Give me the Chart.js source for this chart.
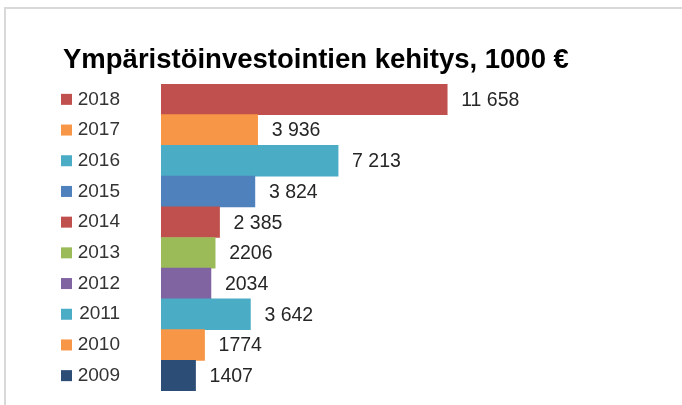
<!DOCTYPE html>
<html>
<head>
<meta charset="utf-8">
<script src="https://cdn.jsdelivr.net/npm/chart.js@4"></script>
<style>
    html, body { margin: 0; padding: 0; background: #fff; }
    canvas { display: block; }
</style>
</head>
<body>
<canvas id="envChart" width="682" height="405"></canvas>
<script>
// Data
const years = ['2018', '2017', '2016', '2015', '2014', '2013', '2012', '2011', '2010', '2009'];
const investments = [11658, 3936, 7213, 3824, 2385, 2206, 2034, 3642, 1774, 1407];
const valueLabels = ['11 658', '3 936', '7 213', '3 824', '2 385', '2206', '2034', '3 642', '1774', '1407'];
const barColors = ['#C0504D', '#F79646', '#4BACC6', '#4F81BD', '#C0504D', '#9BBB59', '#8064A2', '#4BACC6', '#F79646', '#2C4D75'];

const FONT = '"Liberation Sans", Arial, sans-serif';

// frame lines + colored legend squares + value labels
const decorations = {
    id: 'decorations',
    beforeDraw: (chart) => {
        const ctx = chart.ctx;
        ctx.save();
        ctx.strokeStyle = '#d9d9d9';
        ctx.lineWidth = 2;
        ctx.beginPath();
        ctx.moveTo(5, chart.height);
        ctx.lineTo(5, 8);
        ctx.lineTo(chart.width, 8);
        ctx.stroke();
        ctx.restore();
    },
    afterDatasetsDraw: (chart) => {
        const ctx = chart.ctx;
        const yScale = chart.scales.y;
        const meta = chart.getDatasetMeta(0);
        ctx.save();
        years.forEach((y, i) => {
            const py = yScale.getPixelForValue(i);
            ctx.fillStyle = barColors[i];
            ctx.fillRect(chart.chartArea.left - 100, py - 5.5, 11, 11);
        });
        ctx.font = '19.5px ' + FONT;
        ctx.fillStyle = '#262626';
        ctx.textBaseline = 'middle';
        ctx.textAlign = 'left';
        meta.data.forEach((bar, i) => {
            ctx.fillText(valueLabels[i], bar.x + 14, bar.y + 1);
        });
        ctx.restore();
    }
};

new Chart(document.getElementById('envChart'), {
    type: 'bar',
    data: {
        labels: years,
        datasets: [{
            data: investments,
            backgroundColor: barColors,
            borderWidth: 0,
            barPercentage: 1,
            categoryPercentage: 1
        }]
    },
    options: {
        indexAxis: 'y',
        responsive: false,
        animation: false,
        layout: { padding: { left: 63, right: 30, top: 0, bottom: 14 } },
        plugins: {
            legend: { display: false },
            tooltip: { enabled: false },
            title: {
                display: true,
                text: 'Ympäristöinvestointien kehitys, 1000 €',
                align: 'start',
                color: '#000',
                font: { family: FONT, size: 27.5, weight: 'bold', lineHeight: 1.2 },
                padding: { top: 44, bottom: 7 }
            }
        },
        scales: {
            x: {
                display: false,
                min: 0,
                max: 20000
            },
            y: {
                afterFit: (scale) => {
                    scale.width = 98;
                    // labels must not shrink the plot vertically
                    scale.paddingTop = 0;
                    scale.paddingBottom = 0;
                },
                grid: { display: false },
                border: { display: false },
                ticks: {
                    crossAlign: 'near',
                    padding: 33,
                    color: '#333',
                    font: { family: FONT, size: 19 }
                }
            }
        }
    },
    plugins: [decorations]
});
</script>
</body>
</html>
